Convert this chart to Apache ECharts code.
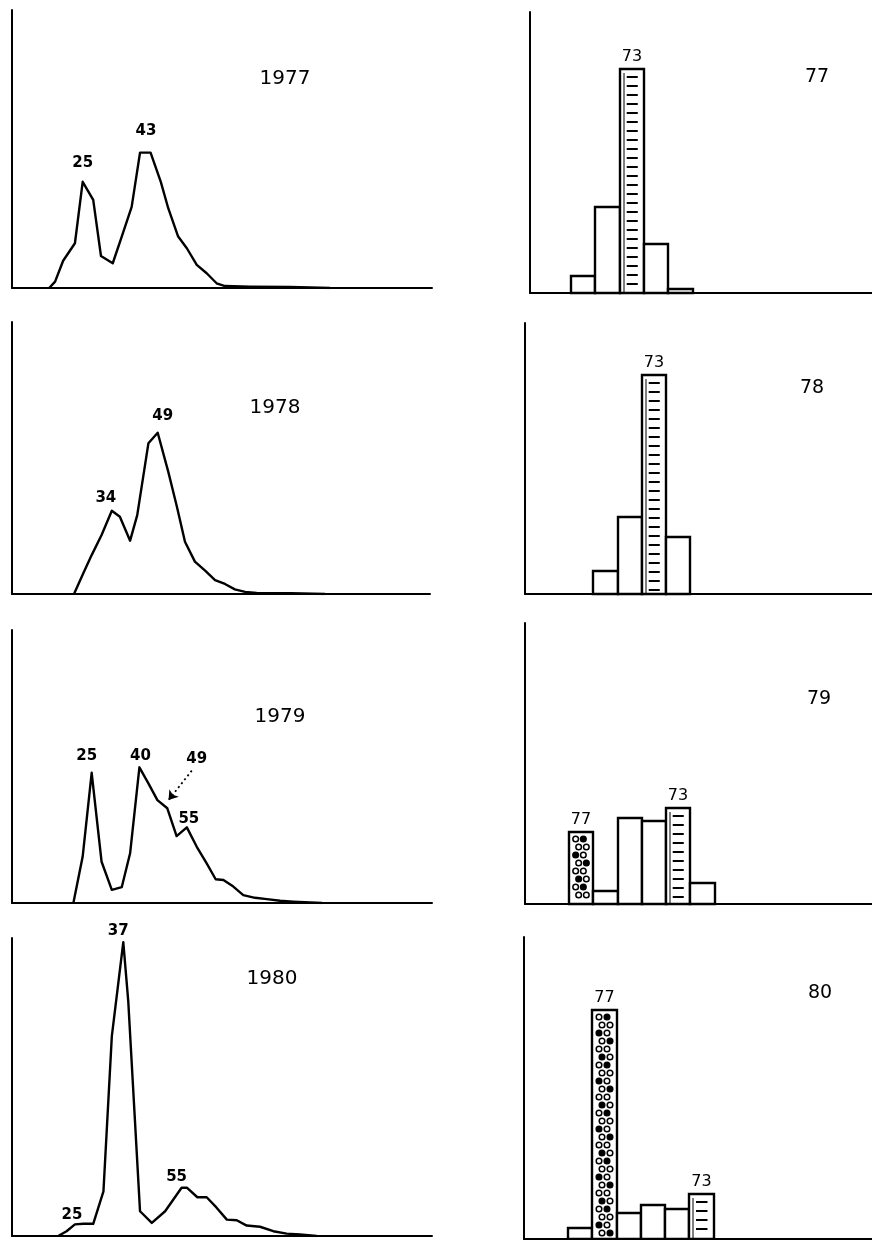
<!DOCTYPE html>
<html>
<head>
<meta charset="utf-8">
<script src="https://cdn.jsdelivr.net/npm/echarts@6/dist/echarts.min.js"></script>
<style>
  html, body { margin: 0; padding: 0; background: #fff; }
  #chart { width: 872px; height: 1240px; }
</style>
</head>
<body>
<div id="chart"></div>
<script>
// ---- Length-frequency curves: length (mm) and relative frequency ----
const years = [1977, 1978, 1979, 1980];

const len1977  = [12.0, 13.9, 16.5, 20.3, 22.8, 26.2, 28.7, 32.5, 35.4, 38.6, 41.3, 44.7, 48.0, 50.4, 53.6, 56.4, 59.6, 62.8, 66.0, 68.7, 76.8, 89.7, 102.6];
const freq1977 = [0, 2.3, 9.8, 16.1, 38.2, 31.7, 11.5, 8.9, 18.5, 29.2, 48.7, 48.7, 38.2, 28.7, 18.5, 14.3, 8.3, 5.3, 1.7, 0.7, 0.5, 0.4, 0];

const len1978  = [20.0, 23.0, 25.7, 28.9, 32.2, 34.8, 38.1, 40.4, 44.0, 47.0, 50.4, 53.2, 55.8, 59.0, 62.3, 65.5, 68.7, 71.9, 75.2, 78.9, 90.0, 101.0];
const freq1978 = [0, 7.6, 14.3, 21.7, 30.6, 28.4, 19.6, 29.0, 55.4, 59.3, 45.0, 32.1, 19.2, 11.9, 8.6, 5.1, 3.7, 1.7, 0.8, 0.4, 0.3, 0];

const len1979  = [19.8, 22.8, 25.7, 28.9, 32.2, 35.4, 38.1, 41.1, 44.0, 46.9, 50.1, 53.1, 56.4, 59.6, 62.8, 65.7, 68.2, 71.4, 74.6, 78.4, 82.2, 86.5, 90.7, 100.0];
const freq1979 = [0, 17.0, 47.7, 15.1, 4.8, 5.8, 18.2, 49.7, 43.8, 37.7, 34.7, 24.5, 27.7, 20.6, 14.5, 8.7, 8.4, 6.0, 2.9, 1.9, 1.4, 0.8, 0.5, 0];

const len1980  = [14.9, 17.6, 20.3, 23.0, 26.2, 29.5, 32.2, 35.9, 37.5, 41.3, 45.1, 49.4, 54.7, 56.4, 59.8, 62.8, 66.0, 69.3, 72.5, 75.7, 80.0, 84.3, 88.6, 92.9, 98.3];
const freq1980 = [0, 1.6, 3.9, 4.1, 4.1, 15.0, 67.0, 98.6, 78.8, 8.3, 4.4, 8.3, 16.2, 16.2, 13.0, 13.0, 9.5, 5.5, 5.3, 3.5, 3.1, 1.6, 0.8, 0.5, 0];

// Modal lengths written on the curves: [point index, text]
const modes1977 = [[4, '25'], [10, '43']];
const modes1978 = [[4, '34'], [9, '49']];
const modes1979 = [[2, '25'], [7, '40'], [12, '55']];
const modes1980 = [[2, '25'], [7, '37'], [12, '55']];
// Mode marked with a dotted arrow in 1979: [point index, text]
const arrowMode1979 = [10, '49'];

// ---- Age composition: ages and relative frequency ----
const ages = [2, 3, 4, 5, 6, 7];
const age1977 = [6.0, 30.6, 79.7, 17.4, 1.3, 0];
const age1978 = [0, 8.6, 28.5, 80.8, 21.1, 0];
const age1979 = [25.5, 4.6, 30.5, 29.5, 34.1, 7.4];
const age1980 = [3.5, 75.8, 8.7, 11.3, 9.8, 14.9];

// Year classes that are followed through the panels
const hatchedClass = 73;
const dottedClass = 77;

// Panel titles
const leftTitles = ['1977', '1978', '1979', '1980'];
const rightTitles = ['77', '78', '79', '80'];

// ---------------- layout ----------------
const FONT = '"DejaVu Sans", "Liberation Sans", sans-serif';
const PX_PER_MM = 3.1;
const PX_PER_AGE = 24.3;

const leftGrids = [
  { left: 12, top: 10,  width: 420, height: 278 },
  { left: 12, top: 322, width: 418, height: 272 },
  { left: 12, top: 630, width: 420, height: 273 },
  { left: 12, top: 938, width: 420, height: 298 }
];
const rightGrids = [
  { left: 530, top: 12,  width: 342, height: 281, ageMin: 0.31 },
  { left: 525, top: 323, width: 347, height: 271, ageMin: 0.19 },
  { left: 525, top: 623, width: 347, height: 281, ageMin: 0.19 },
  { left: 524, top: 937, width: 348, height: 302, ageMin: 0.19 }
];
// label placement for the modal lengths: [horizontal shift, distance above point]
const modeLabelPlace = [
  [[0, 11], [6, 14]],
  [[-6, 5], [5, 9]],
  [[-5, 9], [1, 4], [2, 1]],
  [[-3, 2], [-5, 4], [-5, 3]]
];
const leftTitlePos  = [[285, 79], [275, 408], [280, 717], [272, 979]];
const rightTitlePos = [[817, 77], [812, 388], [819, 699], [820, 993]];

const lengths = [len1977, len1978, len1979, len1980];
const freqs = [freq1977, freq1978, freq1979, freq1980];
const modes = [modes1977, modes1978, modes1979, modes1980];
const ageFreqs = [age1977, age1978, age1979, age1980];

const grid = [], xAxis = [], yAxis = [], series = [];

const axisCommon = {
  axisLine: { show: true, onZero: false, lineStyle: { color: '#000', width: 2 } },
  axisTick: { show: false },
  axisLabel: { show: false },
  splitLine: { show: false }
};

const modeLabelFont = { color: '#000', fontFamily: FONT, fontSize: 15, fontWeight: 'bold' };

// Length-frequency panels
leftGrids.forEach((g, i) => {
  grid.push({ left: g.left, top: g.top, width: g.width, height: g.height });
  xAxis.push(Object.assign({ type: 'value', gridIndex: i, min: 0, max: g.width / PX_PER_MM }, axisCommon));
  yAxis.push(Object.assign({ type: 'value', gridIndex: i, min: 0, max: 100 }, axisCommon));

  const labelled = {};
  modes[i].forEach((m, k) => { labelled[m[0]] = { text: m[1], place: modeLabelPlace[i][k] }; });

  const data = lengths[i].map((L, j) => {
    const item = { value: [L, freqs[i][j]] };
    if (labelled[j]) {
      item.label = Object.assign({
        show: true,
        formatter: labelled[j].text,
        position: 'top',
        distance: labelled[j].place[1],
        offset: [labelled[j].place[0], 0]
      }, modeLabelFont);
    }
    return item;
  });

  const s = {
    type: 'line',
    xAxisIndex: i,
    yAxisIndex: i,
    data: data,
    symbol: 'circle',
    symbolSize: 0,
    showSymbol: true,
    showAllSymbol: true,
    lineStyle: { color: '#000', width: 2.4, join: 'round' },
    itemStyle: { color: '#000' },
    label: { show: false },
    silent: true,
    animation: false
  };

  if (years[i] === 1979) {
    const idx = arrowMode1979[0];
    const p = [lengths[i][idx], freqs[i][idx]];
    s.markLine = {
      silent: true,
      symbol: ['none', 'arrow'],
      symbolSize: 9,
      label: { show: false },
      lineStyle: { color: '#000', type: [2, 3], width: 1.8 },
      data: [[{ coord: [p[0] + 7.9, p[1] + 13.8] }, { coord: [p[0] + 0.4, p[1] + 3.0] }]]
    };
    s.markPoint = {
      silent: true,
      symbol: 'circle',
      symbolSize: 0,
      data: [{ coord: [p[0] + 9.5, p[1] + 17.9] }],
      label: Object.assign({ show: true, position: 'inside', formatter: arrowMode1979[1] }, modeLabelFont)
    };
  }
  series.push(s);
});

// Age-composition panels
function renderAgeBar(params, api) {
  const age = api.value(0), v = api.value(1), yc = api.value(2);
  if (!(v > 0)) return null;
  const a = api.coord([age, 0]);
  const b = api.coord([age + 1, v]);
  const x = Math.round(a[0]), x2 = Math.round(b[0]);
  const y = Math.round(b[1]), y0 = a[1];
  const w = x2 - x, h = y0 - y;
  const kids = [{
    type: 'rect',
    shape: { x: x, y: y, width: w, height: h },
    style: { fill: '#fff', stroke: '#000', lineWidth: 2.4 }
  }];
  if (yc === hatchedClass) {
    kids.push({ type: 'line', shape: { x1: x + 4, y1: y + 4, x2: x + 4, y2: y0 }, style: { stroke: '#000', lineWidth: 1 } });
    for (let yy = y + 8; yy < y0 - 3; yy += 9) {
      kids.push({ type: 'line', shape: { x1: x + w * 0.28, y1: yy, x2: x + w * 0.74, y2: yy }, style: { stroke: '#000', lineWidth: 2 } });
    }
  } else if (yc === dottedClass) {
    let r = 0;
    for (let yy = y + 7; yy < y0 - 4; yy += 8, r++) {
      for (let c = 0; c < 2; c++) {
        const cx = x + w * (c ? 0.66 : 0.34) + (r % 2 ? 1.5 : -1.5);
        const filled = (r * 2 + c) % 3 === 1;
        kids.push({
          type: 'circle',
          shape: { cx: cx, cy: yy, r: 2.8 },
          style: { fill: filled ? '#000' : '#fff', stroke: '#000', lineWidth: 1.5 }
        });
      }
    }
  }
  if (yc === hatchedClass || yc === dottedClass) {
    kids.push({
      type: 'text',
      style: {
        x: x + w / 2, y: y - 4, text: String(yc),
        align: 'center', verticalAlign: 'bottom',
        fill: '#000', font: '500 16px ' + FONT
      }
    });
  }
  return { type: 'group', children: kids };
}

rightGrids.forEach((g, k) => {
  const i = k + 4;
  grid.push({ left: g.left, top: g.top, width: g.width, height: g.height });
  xAxis.push(Object.assign({ type: 'value', gridIndex: i, min: g.ageMin, max: g.ageMin + g.width / PX_PER_AGE }, axisCommon));
  yAxis.push(Object.assign({ type: 'value', gridIndex: i, min: 0, max: 100 }, axisCommon));
  series.push({
    type: 'custom',
    xAxisIndex: i,
    yAxisIndex: i,
    silent: true,
    animation: false,
    renderItem: renderAgeBar,
    encode: { x: 0, y: 1 },
    data: ages.map((a, j) => [a, ageFreqs[k][j], (years[k] - a) % 100])
  });
});

const graphic = [];
leftTitles.forEach((t, i) => graphic.push({
  type: 'text', x: leftTitlePos[i][0], y: leftTitlePos[i][1], silent: true,
  style: { text: t, align: 'center', verticalAlign: 'middle', fill: '#000', font: '20px ' + FONT }
}));
rightTitles.forEach((t, i) => graphic.push({
  type: 'text', x: rightTitlePos[i][0], y: rightTitlePos[i][1], silent: true,
  style: { text: t, align: 'center', verticalAlign: 'middle', fill: '#000', font: '19px ' + FONT }
}));

const chart = echarts.init(document.getElementById('chart'), null, { renderer: 'canvas' });
chart.setOption({
  backgroundColor: '#fff',
  animation: false,
  grid: grid,
  xAxis: xAxis,
  yAxis: yAxis,
  series: series,
  graphic: graphic
});
</script>
</body>
</html>
